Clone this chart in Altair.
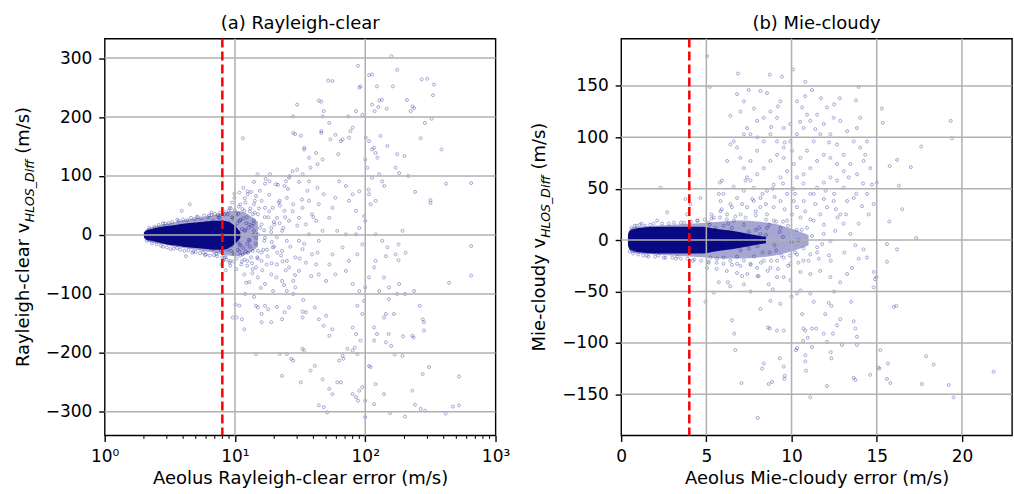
import altair as alt
import pandas as pd

FONT = "DejaVu Sans"
NAVY = "#000080"

# ---------------- Panel (a) Rayleigh-clear ----------------
a_title = "(a) Rayleigh-clear"
a_xlabel = "Aeolus Rayleigh-clear error (m/s)"
a_ylabel_main = "Rayleigh-clear v"
a_ylabel_sub = "HLOS_Diff"
ylabel_unit = "(m/s)"
a_threshold = 8
a_xdomain = [1, 1000]
a_ydomain = [-340, 333]
a_xticks = [1, 10, 100, 1000]
a_yticks = [-300, -200, -100, 0, 100, 200, 300]
a_xgrid = [10, 100]
a_minor = [2, 3, 4, 5, 6, 7, 8, 9, 20, 30, 40, 50, 60, 70, 80, 90,
           200, 300, 400, 500, 600, 700, 800, 900]

# dense core envelope (where markers saturate)
a_core_x = [2.0, 2.1, 2.3, 2.6, 3.0, 3.5, 4.0, 5.0, 6.0, 7.0, 8.0, 9.0, 10.0, 11.0]
a_core_lo = [-4, -8, -10, -13, -16, -18, -20, -22, -24, -25, -25, -22, -15, -5]
a_core_hi = [4, 8, 10, 13, 15, 17, 19, 21, 23, 24, 24, 22, 15, 5]
# lighter fringe around the core
a_halo_x = [2.0, 2.1, 2.3, 2.6, 3.0, 3.5, 4.0, 5.0, 6.0, 7.0, 8.0, 9.0, 10.0, 11.0, 13.0, 15.0]
a_halo_lo = [-5, -10, -13, -15, -17, -20, -22, -25, -28, -30, -33, -35, -36, -35, -30, -20]
a_halo_hi = [5, 10, 13, 16, 19, 22, 25, 28, 31, 34, 37, 40, 41, 40, 33, 22]

a_points = [
    (159, 303), (88, 287), (176, 280), (52, 262), (56, 261), (271, 264), (299, 265), (337, 255), (331, 237),
    (107, 271), (113, 272), (123, 252), (90, 250), (92, 252), (163, 252), (209, 229), (230, 218), (237, 215),
    (223, 210), (134, 229), (128, 228), (146, 214), (126, 217), (113, 221), (118, 210), (131, 168), (148, 151),
    (176, 137), (171, 114), (182, 105), (214, 100), (200, 134), (266, 164), (287, 190), (323, 197), (385, 145),
    (417, 87), (317, 59), (317, 54), (241, 73), (650, 88), (650, -19), (650, -69),
    (524, -289), (471, -291), (414, -303), (524, -240), (440, -81), (309, -224), (276, -236), (262, -120),
    (276, -143), (282, -148), (282, -162), (230, -171), (235, -174), (195, -172), (202, -100), (237, -95),
    (204, -30), (180, -16), (193, 7), (180, -43), (171, -33), (241, -288), (266, -295), (288, -298),
    (230, -264), (202, -308), (193, -205), (168, -203), (158, -188), (155, -302), (166, -134), (144, -134),
    (151, -168), (139, -140), (123, -168), (117, -179), (107, -222), (110, -224), (100, -281), (117, -287),
    (120, -253), (139, -270), (144, -182), (100, -309), (95, -258), (90, -264), (88, -281), (85, -275),
    (80, -270), (83, -191), (87, -202), (80, -196), (73, -193), (67, -205), (68, -210), (63, -213),
    (61, -250), (65, -250), (53, -261), (56, -270), (44, -289), (48, -292), (51, -301), (47, -245),
    (38, -230), (41, -222), (33, -193), (34, -196), (32, -250), (28, -213), (27, -210), (25, -202),
    (22, -202), (23, -239), (14.5, -202), (56, -160), (53, -171), (48, -154), (44, -143), (50, -137),
    (41, -123), (35, -131), (33, -130), (33, -140), (26, -123), (24, -131), (23, -143), (21, -122),
    (18, -126), (17, -120), (16, -134), (15, -123), (14.5, -120), (16, -148), (19, -148), (11.8, -160),
    (11.3, -143), (10.3, -140), (10.1, -118), (9.6, -140), (12.2, -81), (8.5, -60), (9.1, -47), (9.9, -33),
    (11.5, 164), (14.9, 103), (12.5, 69), (13.3, 73), (18.6, 103), (18.4, 91), (17, 87), (20.6, 86),
    (24.6, 91), (26, 97), (24, 83), (27.7, 108), (30, 111), (33, 103), (37, 91), (38, 114), (28, 173),
    (29, 171), (32, 168), (30, 221), (28, 201), (44, 228), (46, 226), (48, 210), (47, 201), (46, 176),
    (46, 173), (34, 145), (34, 148), (37, 131), (42, 139), (47, 128), (43, 120), (53, 190), (54, 162),
    (59, 170), (65, 159), (67, 162), (62, 137), (75, 165), (77, 176), (80, 182), (74, 201), (85, 210),
    (95, 204), (101, 165), (107, 159), (117, 148), (113, 145), (120, 139), (124, 131), (100, 128),
    (104, 114), (113, 97), (128, 103), (135, 91), (140, 83), (120, 58), (106, 77), (107, 69), (110, 52),
    (100, 24), (120, 1), (135, -10), (148, -21), (144, -36), (120, -44), (117, -55), (107, -72), (100, -89),
    (128, -95), (152, -109), (139, -72), (152, -89), (176, -100), (182, -83), (117, -157), (92, -179),
    (80, -157), (85, -168), (95, -134), (87, -120), (98, -112), (90, -95), (80, -83), (71, -61), (75, -44),
    (87, -33), (95, -16), (85, 1), (90, 12), (98, 32), (85, 41), (75, 58), (80, 69), (90, 74), (71, 83),
    (63, 91), (59, 63), (56, 46), (53, 29), (61, 7), (71, 1), (67, -21), (56, -33), (53, -50), (59, -67),
    (50, -78), (44, -67), (42, -50), (39, -33), (44, -10), (47, 7), (42, 24), (39, 35), (44, 52), (48, 69),
    (43, 80), (37, 58), (33, 46), (31, 29), (35, 18), (37, 1), (31, -10), (33, -24), (29, -38), (35, -47),
    (31, -61), (28, -78), (29, -89), (25, -95), (23, -78), (26, -55), (25, -44), (23, -27), (25, -10),
    (23, 7), (26, 24), (24, 41), (28, 52), (25, 63), (22, 58), (19.5, 46), (21, 29), (19, 12), (21, -4),
    (19.5, -21), (17.8, -36), (21, -50), (19, -67), (17, -83), (15, -72), (14.5, -55), (16, -44), (15, -27),
    (16.8, -10), (15, 1), (16, 18), (15, 35), (17, 46), (16, 58), (14, 52), (13.7, 35), (12.9, 18), (14, 7),
    (12.9, -10), (13.7, -27), (12.5, -44), (13.7, -58), (11.8, -67), (11.5, -33), (11, -16), (11.8, 7),
    (10.8, 24), (11.8, 41), (11, 52), (10.2, 35), (9.6, 12), (9.1, -10), (9.3, -27), (8.5, -38), (8.3, 35),
    (9.1, 46), (9.9, 63), (10.8, 72), (12.5, 74), (14.5, 66), (7.6, 29), (6.8, 24), (6, 21), (5.3, 18),
    (4.5, 52), (3.9, 41), (4.2, -36), (5.7, -30), (6.8, -24), (7.8, -26), (8.1, -44), (10.8, -120),
    (3.2, -24), (2.8, 20), (3.6, 26), (5.2, 30), (6.3, 33), (7.2, -32), (5.9, -34), (4.8, -28), (6.6, 38),
    (7.5, 30), (8.8, 35), (9.3, 45), (8.3, -38), (9.8, -45), (7.9, -50), (11.2, -50), (12.0, 55),
    (13.0, -20), (14.0, 25), (10.5, -25), (12.3, 30),
    # fringe of the dense core
    (2.1, -10), (2.2, 12), (2.3, -14), (2.4, 14), (2.5, -16), (2.6, 17), (2.7, -18), (2.8, -20), (2.9, 19),
    (3.0, -21), (3.1, 20), (3.3, 22), (3.4, -23), (3.6, -22), (3.7, 24), (3.8, -25), (4.0, 26), (4.1, -27),
    (4.3, 25), (4.4, -26), (4.6, 29), (4.7, -30), (4.9, 27), (5.0, -29), (5.1, 31), (5.4, -31), (5.5, 28),
    (5.8, 33), (6.0, -33), (6.2, 30), (6.4, -35), (6.6, 34), (6.9, -34), (7.0, 36), (7.3, -36), (7.4, 34),
    (7.7, 38), (8.0, -38), (8.2, 40), (8.6, -42), (8.9, 41), (9.2, -44), (9.5, 30), (9.8, -30), (10.0, 42),
    (10.3, -40), (10.6, 36), (11.0, -35), (11.4, 44), (11.8, -42), (12.2, 20), (12.6, -30), (13.1, 45),
    (13.5, -48), (14.2, 38), (15.0, -40), (9.0, 20), (9.4, -18), (10.0, 15), (10.5, -12), (11.0, 25),
    (11.6, -22), (12.0, 8), (12.8, -8), (13.5, 15), (14.5, -15), (8.7, -25), (9.7, 28), (10.8, -28),
    (11.3, 10), (12.4, -15), (13.8, 0), (15.5, 12), (16.5, -25), (18, 30), (20, -20), (22, 20), (17, -5),
    (19, 5),
    # semi-dense zone right of the threshold
    (9.5, 55), (10.2, -58), (10.7, 48), (11.3, -45), (11.9, 62), (12.4, -52), (13.0, 40), (13.6, -65),
    (14.2, 58), (14.8, -38), (15.5, 75), (16.2, -60), (16.9, 30), (17.6, -25), (18.3, 68), (19.1, -48),
    (19.9, 22), (20.8, -72), (21.7, 55), (22.6, -35), (23.5, 12), (24.5, -60), (25.5, 78), (26.6, -20),
    (27.7, 40), (28.9, -68), (30.1, 16), (31.4, -40), (32.7, 60), (34.0, -15), (10.0, -8), (10.4, 20),
    (10.9, -18), (11.5, 28), (12.1, -28), (12.7, 12), (13.3, -38), (13.9, 20), (14.6, -5), (15.3, 45),
    (16.0, -30), (16.7, 8), (17.5, -50), (18.3, 40), (19.2, -12), (20.1, 18), (21.1, -30), (22.1, 50),
    (23.2, -45), (24.3, 30), (9.2, -52), (9.9, 70), (11.6, 80), (12.9, -80), (14.0, 90), (15.8, -90),
    (17.2, 95), (19.6, -95), (21.4, 85), (23.8, -85), (26.2, 100), (28.0, -100), (31.0, 90), (33.5, -110),
    (36.0, 75), (38.5, -70), (40.0, 30), (43.0, -30), (12.0, -100), (14.0, -105),
]

# ---------------- Panel (b) Mie-cloudy ----------------
b_title = "(b) Mie-cloudy"
b_xlabel = "Aeolus Mie-cloudy error (m/s)"
b_ylabel_main = "Mie-cloudy v"
b_ylabel_sub = "HLOS_Diff"
b_threshold = 4
b_xdomain = [0, 22.94]
b_ydomain = [-190, 196]
b_xticks = [0, 5, 10, 15, 20]
b_yticks = [-150, -100, -50, 0, 50, 100, 150]
b_xgrid = [5, 10, 15, 20]

b_core_x = [0.4, 0.5, 0.8, 1.2, 2.0, 3.0, 4.0, 4.8, 5.5, 6.5, 7.5, 8.5]
b_core_lo = [-5, -9, -11, -12, -13, -13, -13, -13, -11, -9, -6, -3]
b_core_hi = [5, 9, 11, 12, 13, 13, 13, 13, 11, 9, 6, 3]
b_halo_x = [0.4, 0.6, 1.0, 2.0, 3.0, 4.0, 5.0, 6.0, 7.0, 8.0, 9.0, 10.0, 11.0]
b_halo_lo = [-6, -12, -13, -14, -15, -16, -17, -18, -18, -17, -15, -11, -5]
b_halo_hi = [6, 12, 13, 14, 15, 16, 17, 18, 19, 18, 16, 11, 5]

b_points = [
    (5.04, 179), (5.2, 149), (6.86, 162), (8.72, 161), (9.44, 159), (10.09, 166), (10.81, 154), (11.2, 146),
    (11.73, 138), (12.83, 138), (13.78, 136), (13.94, 149), (15.3, 128), (15.36, 114), (19.34, 116),
    (19.41, 99), (17.61, 91), (17.0, 71), (16.2, 78), (15.76, 72), (16.3, 53), (16.5, 30), (15.74, 18),
    (17.32, 2), (16.19, -9), (15.6, -21), (15.6, -4), (14.82, -31), (14.9, -38), (14.82, -46), (14.98, -36),
    (16.0, -65), (16.15, -64), (15.21, -107), (15.1, -124), (15.16, -125), (15.66, -120), (15.6, -135),
    (15.8, -139), (17.65, -140), (17.9, -113), (18.34, -121), (19.22, -141), (19.51, -153), (21.86, -128),
    (14.62, -131), (13.65, -134), (13.75, -136), (13.84, -102), (13.84, -94), (13.75, -86), (13.65, -79),
    (12.96, -102), (12.86, -77), (12.67, -83), (12.34, -115), (12.3, -109), (12.08, -142), (11.1, -153),
    (11.45, -86), (11.2, -86), (10.81, -88), (10.7, -86), (10.95, -95), (10.68, -98), (10.81, -112),
    (10.81, -118), (10.85, -127), (10.32, -105), (10.26, -107), (10.62, -72), (10.32, -52), (10.52, -49),
    (11.1, -52), (12.18, -61), (12.34, -64), (11.98, -72), (12.43, -91), (12.08, -99), (11.89, -91),
    (11.2, -104), (9.6, -132), (9.58, -135), (9.54, -123), (9.31, -115), (9.15, -88), (9.54, -88),
    (9.34, -62), (8.76, -59), (8.37, -120), (8.27, -125), (8.66, -140), (8.86, -138), (8.02, -173),
    (8.17, -67), (8.62, -85), (8.72, -86), (6.51, -78), (6.64, -91), (6.7, -107), (7.06, -139), (7.2, -43),
    (7.1, -35), (8.07, -35), (8.66, -43), (9.15, -36), (9.54, -36), (9.93, -39), (10.52, -31), (11.1, -33),
    (11.69, -30), (12.28, -36), (12.86, -41), (13.26, -33), (13.55, -27), (13.94, -18), (14.43, -17),
    (14.23, -9), (13.75, -5), (13.45, 6), (13.94, 16), (14.53, 25), (14.82, 35), (14.14, 33), (13.65, 41),
    (13.26, 38), (12.86, 25), (13.06, 16), (12.57, 9), (12.28, -1), (11.89, 6), (11.5, -7), (11.1, -14),
    (10.7, -20), (10.32, -14), (9.93, -23), (9.54, -17), (9.15, -20), (8.76, -27), (8.37, -20), (7.98, -27),
    (7.59, -23), (7.2, -20), (6.8, -23), (6.41, -20), (6.02, -17), (5.63, -18), (5.24, -17), (5.04, -27),
    (5.14, -22), (5.44, -51), (4.95, -60), (5.73, -41), (6.26, -41), (13.06, 51), (12.67, 58), (12.28, 61),
    (11.89, 56), (11.5, 51), (11.1, 45), (10.71, 38), (10.32, 32), (10.03, 25), (9.74, 19), (9.35, 12),
    (8.95, 19), (8.56, 25), (8.17, 32), (7.78, 38), (7.39, 32), (7.0, 25), (6.61, 19), (6.22, 25),
    (5.83, 28), (5.44, 22), (5.14, 17), (5.53, 12), (6.02, 14), (6.41, 35), (6.8, 41), (7.2, 48),
    (7.59, 58), (7.98, 64), (8.37, 70), (8.76, 77), (9.15, 83), (9.54, 90), (9.93, 96), (10.32, 103),
    (10.71, 109), (11.1, 116), (11.5, 122), (11.89, 113), (12.28, 103), (12.67, 93), (13.06, 83),
    (13.45, 74), (13.84, 64), (14.23, 77), (14.03, 90), (13.65, 96), (13.26, 106), (12.86, 116),
    (12.47, 119), (12.08, 129), (11.69, 103), (11.3, 96), (10.91, 87), (10.52, 80), (10.13, 74),
    (9.74, 67), (9.35, 61), (8.95, 54), (8.56, 48), (8.17, 41), (7.78, 51), (7.39, 61), (7.2, 70),
    (7.0, 80), (6.8, 90), (6.61, 96), (6.41, 93), (6.22, 77), (5.92, 58), (5.73, 45), (6.41, 121),
    (7.0, 125), (7.39, 109), (7.59, 103), (7.2, 103), (7.98, 116), (8.37, 119), (8.76, 125), (9.15, 119),
    (9.54, 109), (9.93, 113), (10.32, 135), (10.62, 129), (10.91, 122), (9.35, 135), (8.56, 143),
    (8.17, 145), (7.49, 146), (7.2, 135), (6.8, 142), (8.37, 96), (7.98, 87), (7.59, 77), (8.76, 103),
    (9.15, 96), (9.54, 80), (10.03, 87), (10.32, 61), (10.71, 64), (11.1, 70), (11.5, 77), (11.89, 83),
    (12.28, 80), (12.67, 74), (13.06, 67), (12.47, 38), (12.08, 32), (11.69, 25), (11.3, 19), (10.91, 12),
    (10.52, 22), (10.13, 38), (9.74, 45), (9.35, 38), (8.95, 32), (8.56, 12), (8.17, 6), (14.03, 119),
    (13.84, 109), (14.43, 96), (14.33, 83), (14.62, 70), (14.72, 54), (14.43, 45), (13.36, 61), (15.01, 56),
    (5.79, 56), (5.83, 38), (4.65, 41), (4.46, 19), (3.87, 25), (2.7, 27), (2.31, 51), (2.11, 19),
    (4.07, 35), (3.77, 40), (1.5, -15), (1.2, 16), (3.2, -18), (4.2, -20), (0.8, 14), (2.5, -17), (3.5, 17),
    # fringe of the dense core
    (0.5, -11), (0.6, 12), (0.7, -13), (0.9, 14), (1.0, -14), (1.1, 15), (1.3, -15), (1.4, 14), (1.6, -16),
    (1.7, 15), (1.9, 16), (2.0, -16), (2.2, -15), (2.4, 16), (2.6, -17), (2.8, 16), (3.0, -17), (3.1, 17),
    (3.3, -16), (3.5, -18), (3.7, 17), (3.9, -18), (4.1, 18), (4.3, -19), (4.5, 19), (4.7, -20), (4.9, 20),
    (5.1, -21), (5.3, 21), (5.6, -22), (5.8, 22), (6.0, -23), (6.2, 20), (6.5, -24), (6.7, 23), (7.0, -25),
    (7.3, 22), (7.6, -24), (7.9, 24), (8.2, -22), (8.5, 20), (8.8, -20), (9.1, 18), (9.4, -15), (9.8, 14),
    (10.2, -12), (10.6, 10), (5.5, 10), (6.0, -8), (6.5, 12), (7.0, -10), (7.5, 8), (8.0, -6), (8.5, 5),
    (9.0, -5), (9.5, 3), (10.0, -2), (5.2, 15), (6.3, 16), (7.2, 15), (8.1, 12), (9.3, 8), (6.8, -16),
    (7.8, -16), (8.7, -12), (10.4, 0), (11.2, 4), (11.8, -4),
    # semi-dense zone right of the threshold
    (5.3, 25), (5.6, -28), (5.9, 30), (6.2, -30), (6.5, 32), (6.8, -32), (7.1, 35), (7.4, -33), (7.7, 40),
    (8.0, -35), (8.3, 45), (8.6, -30), (8.9, 50), (9.2, -28), (9.5, 55), (9.8, -25), (10.1, 50),
    (10.4, -22), (10.7, 55), (11.0, -20), (11.3, 45), (11.6, -18), (11.9, 40), (12.2, -15), (12.5, 45),
    (5.5, 5), (5.9, -5), (6.3, 8), (6.7, -3), (7.1, 5), (7.5, -8), (7.9, 10), (8.3, -12), (8.7, 15),
    (9.1, -10), (9.5, 18), (9.9, -15), (10.3, 10), (10.7, -8), (11.1, 20), (11.5, -12), (11.9, 15),
    (12.3, -20), (12.7, 22), (13.1, -12), (6.0, 45), (6.6, 52), (7.3, 58), (7.9, 28), (8.5, 35), (9.0, 42),
    (9.6, 30), (10.2, 45), (10.8, 28), (11.4, 35), (12.0, 48), (12.6, 30), (13.2, 25), (13.8, 45),
    (14.2, 55), (6.4, -45), (7.6, -50), (8.9, -48), (10.0, -55), (11.3, -60), (12.5, -50), (13.5, -60),
    (8.0, 100), (8.8, 110), (9.6, 95), (10.5, 115), (11.4, 108), (12.2, 95), (9.2, 130), (10.8, 140),
    (12.5, 132), (7.8, 128),
]

W, H = 392, 398
LABEL_X = -81


def make_panel(title, xlabel, ylab_main, ylab_sub, points, core, halo, threshold,
               xdomain, ydomain, xticks, yticks, xgrid, log, label_expr, minor, main_em):
    if log:
        xscale = alt.Scale(type="log", domain=xdomain, nice=False)
    else:
        xscale = alt.Scale(domain=xdomain, nice=False, zero=False)
    yscale = alt.Scale(domain=ydomain, nice=False, zero=False)
    xaxis_kw = dict(values=xticks, title=xlabel, grid=False, labelFlush=False, domain=False)
    if label_expr:
        xaxis_kw["labelExpr"] = label_expr
    X = alt.X("x:Q", scale=xscale, axis=alt.Axis(**xaxis_kw))
    Y = alt.Y("y:Q", scale=yscale, axis=alt.Axis(values=yticks, title=None, grid=False, domain=False))

    pts_df = pd.DataFrame(points, columns=["x", "y"])
    halo_df = pd.DataFrame({"x": halo[0], "y": halo[1], "y2": halo[2]})
    core_df = pd.DataFrame({"x": core[0], "y": core[1], "y2": core[2]})

    halo_l = alt.Chart(halo_df).mark_area(color=NAVY, opacity=0.35, interpolate="monotone").encode(
        x=X, y=Y, y2="y2:Q")
    core_l = alt.Chart(core_df).mark_area(color=NAVY, opacity=0.95, interpolate="monotone").encode(
        x=X, y=Y, y2="y2:Q")
    pts_l = alt.Chart(pts_df).mark_point(filled=False, color=NAVY, size=9, strokeWidth=1,
                                         opacity=0.35).encode(x=X, y=Y)
    vgrid = alt.Chart(pd.DataFrame({"x": xgrid})).mark_rule(color="#b0b0b0", strokeWidth=1.5).encode(x=X)
    hgrid = alt.Chart(pd.DataFrame({"y": yticks})).mark_rule(color="#b0b0b0", strokeWidth=1.5).encode(y=Y)
    red = alt.Chart(pd.DataFrame({"x": [threshold]})).mark_rule(
        color="#ff0000", strokeWidth=2.5, strokeDash=[9, 4]).encode(x=X)

    layers = [halo_l, core_l, pts_l, vgrid, hgrid, red]
    if minor:
        minor_l = alt.Chart(pd.DataFrame({"x": minor})).mark_rule(color="black", strokeWidth=1).encode(
            x=X, y=alt.value(H), y2=alt.value(H + 3.5))
        layers.append(minor_l)

    # panel title
    t_title = alt.Chart(pd.DataFrame({"t": [title]})).mark_text(
        align="center", baseline="alphabetic", fontSize=18, font=FONT, color="black").encode(
        text="t:N", x=alt.value(W / 2), y=alt.value(-10))

    # y-axis title with subscript, as text pieces
    main_len = main_em * 18
    sub_len = 4.983 * 12.6
    unit_len = 2.93 * 18
    total = main_len + sub_len + unit_len
    y0 = H / 2 + total / 2
    t_main = alt.Chart(pd.DataFrame({"t": [ylab_main]})).mark_text(
        angle=270, align="left", baseline="middle", fontSize=18, font=FONT, color="black").encode(
        text="t:N", x=alt.value(LABEL_X), y=alt.value(y0))
    t_sub = alt.Chart(pd.DataFrame({"t": [ylab_sub]})).mark_text(
        angle=270, align="left", baseline="middle", fontSize=12.6, font=FONT, fontStyle="italic",
        color="black").encode(text="t:N", x=alt.value(LABEL_X + 6), y=alt.value(y0 - main_len))
    t_unit = alt.Chart(pd.DataFrame({"t": [ylabel_unit]})).mark_text(
        angle=270, align="left", baseline="middle", fontSize=18, font=FONT, color="black").encode(
        text="t:N", x=alt.value(LABEL_X), y=alt.value(y0 - main_len - sub_len - 0.318 * 18))
    layers += [t_title, t_main, t_sub, t_unit]

    return alt.layer(*layers).properties(width=W, height=H)


log_expr = ("datum.value < 5 ? '10\u2070' : datum.value < 50 ? '10\u00b9' : "
            "datum.value < 500 ? '10\u00b2' : '10\u00b3'")

panel_a = make_panel(a_title, a_xlabel, a_ylabel_main, a_ylabel_sub, a_points,
                     (a_core_x, a_core_lo, a_core_hi), (a_halo_x, a_halo_lo, a_halo_hi), a_threshold,
                     a_xdomain, a_ydomain, a_xticks, a_yticks, a_xgrid, True, log_expr, a_minor, 8.078)
panel_b = make_panel(b_title, b_xlabel, b_ylabel_main, b_ylabel_sub, b_points,
                     (b_core_x, b_core_lo, b_core_hi), (b_halo_x, b_halo_lo, b_halo_hi), b_threshold,
                     b_xdomain, b_ydomain, b_xticks, b_yticks, b_xgrid, False, None, None, 6.328)

chart = alt.hconcat(panel_a, panel_b, spacing=20).properties(
    padding={"left": 14, "top": 13, "right": 0, "bottom": 0},
    background="white",
).configure_view(stroke="black", strokeWidth=1.4).configure_axis(
    labelFont=FONT, labelFontSize=17, labelColor="black", labelPadding=7,
    titleFont=FONT, titleFontSize=18, titleFontWeight="normal", titleColor="black", titlePadding=5,
    tickColor="black", tickWidth=1.4, tickSize=6,
)

chart.save("out.html", embed_options={"renderer": "svg", "actions": False})
